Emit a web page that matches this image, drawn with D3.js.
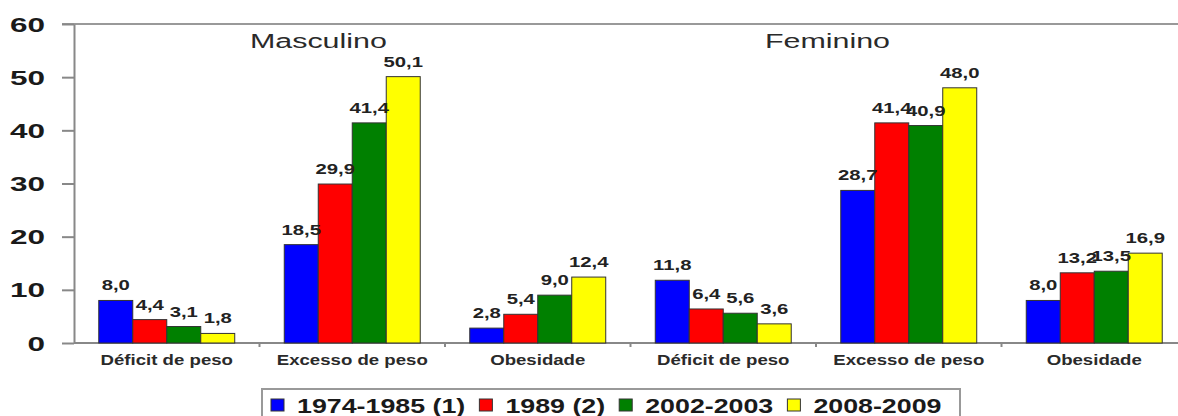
<!DOCTYPE html>
<html>
<head>
<meta charset="utf-8">
<script src="https://cdn.jsdelivr.net/npm/d3@7"></script>
<style>
  body { margin: 0; background: #fff; }
  text { font-family: "Liberation Sans", Arial, sans-serif; }
</style>
</head>
<body>
<div id="chart"></div>
<script>
// data
var categories = ["Déficit de peso", "Excesso de peso", "Obesidade", "Déficit de peso", "Excesso de peso", "Obesidade"];
var groups = ["Masculino", "Feminino"];
var periods = ["1974-1985 (1)", "1989 (2)", "2002-2003", "2008-2009"];
var s1974 = [8.0, 18.5, 2.8, 11.8, 28.7, 8.0];
var s1989 = [4.4, 29.9, 5.4, 6.4, 41.4, 13.2];
var s2002 = [3.1, 41.4, 9.0, 5.6, 40.9, 13.5];
var s2008 = [1.8, 50.1, 12.4, 3.6, 48.0, 16.9];
var yTicks = [0, 10, 20, 30, 40, 50, 60];

var series = [s1974, s1989, s2002, s2008];
var colors = ["#0000ff", "#ff0000", "#008000", "#ffff00"];

var W = 1178, H = 416;
var margin = {top: 24, left: 74, right: 1187, bottom: 343};

var svg = d3.select("#chart")
    .append("svg")
    .attr("width", W)
    .attr("height", H);

var x = d3.scaleBand()
    .domain(d3.range(categories.length))
    .range([margin.left, margin.right])
    .paddingInner(0.267)
    .paddingOuter(0.1335);

var xs = d3.scaleBand()
    .domain(d3.range(periods.length))
    .range([0, x.bandwidth()]);

var y = d3.scaleLinear()
    .domain([0, 60])
    .range([margin.bottom, margin.top]);

var fmt = (v) => d3.format(".1f")(v).replace(".", ",");

// text is drawn wide in the original, so stretch it horizontally
function stretch(sel, sx) {
  sel.each(function() {
    var t = d3.select(this);
    var tx = +t.attr("x"), ty = +t.attr("y");
    t.attr("x", 0).attr("y", 0)
      .attr("transform", "translate(" + tx + "," + ty + ") scale(" + sx + ",1)");
  });
}

// top border
svg.append("line")
    .attr("x1", 62).attr("x2", W)
    .attr("y1", margin.top).attr("y2", margin.top)
    .attr("stroke", "#999").attr("stroke-width", 2);

// y axis
var yAxis = svg.append("g")
    .attr("transform", "translate(" + margin.left + ",0)")
    .call(d3.axisLeft(y).tickValues(yTicks).tickSize(12).tickSizeOuter(0).tickFormat(""));
yAxis.select(".domain").attr("stroke", "#888").attr("stroke-width", 2);
yAxis.selectAll(".tick line").attr("stroke", "#888").attr("stroke-width", 2);

svg.append("g").selectAll("text")
    .data(yTicks)
    .enter()
    .append("text")
    .attr("x", 45)
    .attr("y", (d) => y(d) + 7.5)
    .attr("text-anchor", "end")
    .attr("font-size", "21px")
    .attr("font-weight", "bold")
    .attr("fill", "#1a1a1a")
    .text((d) => d)
    .call(stretch, 1.5);

// x axis line + ticks between categories
svg.append("line")
    .attr("x1", margin.left).attr("x2", W)
    .attr("y1", margin.bottom).attr("y2", margin.bottom)
    .attr("stroke", "#888").attr("stroke-width", 2);

svg.append("g").selectAll("line")
    .data(d3.range(1, categories.length))
    .enter()
    .append("line")
    .attr("x1", (d) => x(d) - x.step() * x.paddingInner() / 2)
    .attr("x2", (d) => x(d) - x.step() * x.paddingInner() / 2)
    .attr("y1", margin.bottom).attr("y2", margin.bottom + 4)
    .attr("stroke", "#888").attr("stroke-width", 2);

// bars
var bars = [];
series.forEach((s, k) => s.forEach((v, i) => bars.push({cat: i, k: k, v: v})));

svg.append("g").selectAll("rect")
    .data(bars)
    .enter()
    .append("rect")
    .attr("x", (d) => x(d.cat) + xs(d.k))
    .attr("y", (d) => y(d.v))
    .attr("width", xs.bandwidth())
    .attr("height", (d) => y(0) - y(d.v))
    .attr("fill", (d) => colors[d.k])
    .attr("stroke", "#333")
    .attr("stroke-width", 1);

svg.append("g").selectAll("text")
    .data(bars)
    .enter()
    .append("text")
    .attr("x", (d) => x(d.cat) + xs(d.k) + xs.bandwidth() / 2)
    .attr("y", (d) => y(d.v) - 10)
    .attr("text-anchor", "middle")
    .attr("font-size", "14.5px")
    .attr("font-weight", "bold")
    .attr("fill", "#222")
    .text((d) => fmt(d.v))
    .call(stretch, 1.4);

// category labels
svg.append("g").selectAll("text")
    .data(categories)
    .enter()
    .append("text")
    .attr("x", (d, i) => x(i) + x.bandwidth() / 2)
    .attr("y", 365)
    .attr("text-anchor", "middle")
    .attr("font-size", "14px")
    .attr("font-weight", "bold")
    .attr("fill", "#2a2a2a")
    .text((d) => d)
    .call(stretch, 1.33);

// group titles
svg.append("g").selectAll("text")
    .data(groups)
    .enter()
    .append("text")
    .attr("x", (d, i) => i == 0 ? 250 : 765)
    .attr("y", 48)
    .attr("font-size", "20px")
    .attr("fill", "#2a2a2a")
    .text((d) => d)
    .call(stretch, 1.52);

// legend
svg.append("rect")
    .attr("x", 262).attr("y", 389)
    .attr("width", 698).attr("height", 40)
    .attr("fill", "#fff")
    .attr("stroke", "#999").attr("stroke-width", 2);

var lx = 271;
periods.forEach((p, k) => {
  svg.append("rect")
      .attr("x", lx).attr("y", 399)
      .attr("width", 13).attr("height", 12)
      .attr("fill", colors[k])
      .attr("stroke", "#333");
  var t = svg.append("text")
      .attr("x", lx + 26)
      .attr("y", 413)
      .attr("font-size", "20px")
      .attr("font-weight", "bold")
      .attr("fill", "#1a1a1a")
      .text(p);
  var w = t.node().getComputedTextLength() * 1.34;
  t.call(stretch, 1.34);
  lx = lx + 26 + w + 14;
});
</script>
</body>
</html>
